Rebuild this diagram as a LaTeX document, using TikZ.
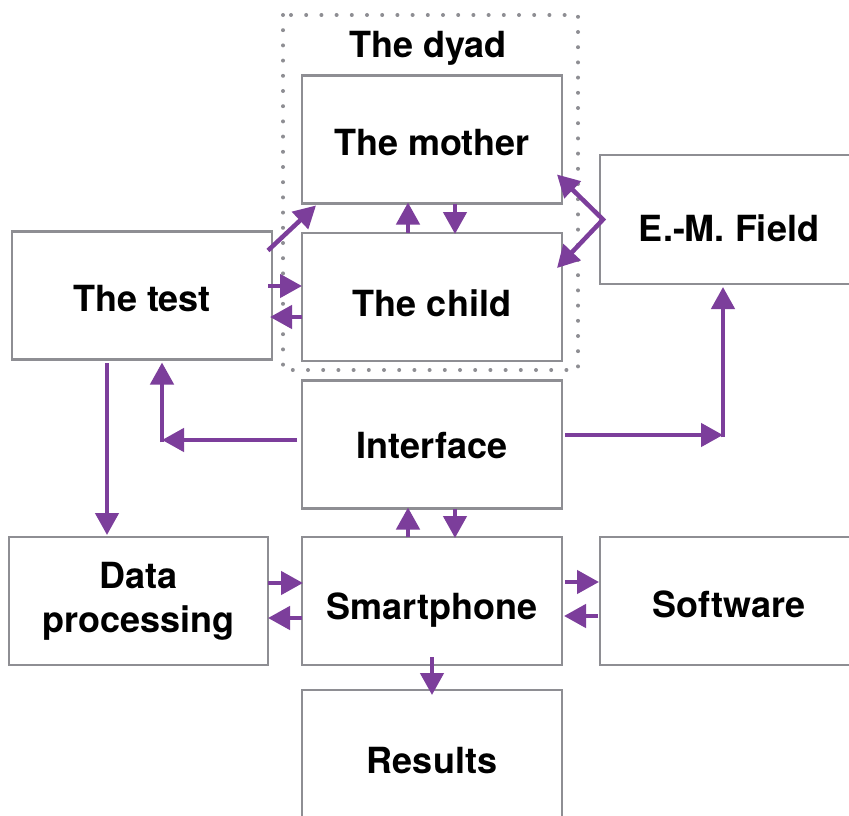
\documentclass[tikz,border=0pt]{standalone}
\usepackage{fontspec}
\setmainfont{TeX Gyre Heros}
\usetikzlibrary{arrows.meta,calc}
\definecolor{boxgray}{RGB}{142,142,147}
\definecolor{arrpurple}{RGB}{124,62,155}
\tikzset{
  box/.style={draw=boxgray, line width=2.5pt, minimum width=260pt, minimum height=128pt,
    inner sep=0pt, outer sep=0pt, align=center,
    font=\fontsize{36}{44}\selectfont\bfseries},
  bl/.style={text depth=0pt, text height=#1},
  arr/.style={draw=arrpurple, line width=4.5pt, -{Triangle[length=22pt,width=23pt]}},
  darr/.style={draw=arrpurple, line width=4.5pt, {Triangle[length=22pt,width=23pt]}-{Triangle[length=22pt,width=23pt]}},
  dyadbox/.style={draw=boxgray, line width=4pt, line cap=round, dash pattern=on 0pt off 15.2pt},
  lbl/.style={font=\fontsize{36}{44}\selectfont\bfseries, inner sep=0pt}
}
\begin{document}
\begin{tikzpicture}[x=1pt,y=-1pt]
\useasboundingbox (0,0) rectangle (849,816);
\clip (0,0) rectangle (849,816);
\fill[white] (0,0) rectangle (849,816);

% dyad frame
\draw[dyadbox] (283,15) rectangle (578,370);
\node[lbl] (dyad) at (428,48) {The dyad};

% boxes
\node[box, bl=31pt] (mother) at (432,139.5) {The mother};
\node[box, bl=38pt] (child) at (432,297) {The child};
\node[box, bl=31pt] (test) at (142,295.5) {The test};
\node[box, bl=43pt, minimum width=258pt, minimum height=129pt] (em) at (729,219.5) {E.-M. Field};
\node[box, bl=27pt] (interface) at (432,444.5) {Interface};
\node[box, minimum width=259pt] (dp) at (138.5,601) {\raisebox{-1pt}{Data}\\\raisebox{-1pt}{processing}};
\node[box, bl=36pt] (smart) at (432,601) {Smartphone};
\node[box, bl=32pt, minimum width=258pt] (soft) at (729,601) {Software};
\node[box, bl=38pt] (results) at (432,754) {Results};

% corner coordinates
\coordinate (cl) at (162,440);
\coordinate (cr) at (723,435);
\coordinate (apex) at ($(em.west)+(3,0)$);

% test -> mother / child
\draw[arr] ($(test.north east)+(-4,19)$) -- ($(mother.south west)+(14,2)$);
\draw[arr] ($(test.east)+(-4,-9.5)$) -- ($(child.west)+(0,-11)$);
\draw[arr] ($(child.west)+(0,20)$) -- ($(test.east)+(-2,21.5)$);

% mother <-> child
\draw[arr] ($(child.north)+(-24,0)$) -- ($(mother.south)+(-24,-1)$);
\draw[arr] ($(mother.south)+(23,0)$) -- ($(child.north)+(23,1)$);

% E.-M. field to mother and child
\draw[darr, line join=miter] ($(mother.south east)+(-5,-29)$) -- (apex) -- ($(child.north east)+(-5,35)$);

% test -> data processing
\draw[arr] ($(test.south)+(-35,3.5)$) -- ($(dp.north)+(-31.5,-2)$);

% interface -> test
\draw[arr] ($(interface.west)+(-5,-4.5)$) -- (cl);
\draw[arr, shorten >=3pt] ($(cl)+(0,2.25)$) -- (cl |- test.south);

% interface -> E.-M. field
\draw[arr] ($(interface.east)+(3,-9.5)$) -- (cr);
\draw[arr, shorten >=3pt] ($(cr)+(0,2.25)$) -- (cr |- em.south);

% interface <-> smartphone
\draw[arr] ($(smart.north)+(-24,0)$) -- ($(interface.south)+(-24,-1)$);
\draw[arr] ($(interface.south)+(23,0)$) -- ($(smart.north)+(23,1)$);

% data processing <-> smartphone
\draw[arr] ($(dp.east)+(0,-18)$) -- ($(smart.west)+(1,-18)$);
\draw[arr] ($(smart.west)+(0,17)$) -- ($(dp.east)+(0,17)$);

% smartphone <-> software
\draw[arr] ($(smart.east)+(3,-19)$) -- ($(soft.west)+(-1,-19)$);
\draw[arr] ($(soft.west)+(-2,15)$) -- ($(smart.east)+(2,15)$);

% smartphone -> results
\draw[arr] ($(smart.south)+(0,-8)$) -- ($(results.north)+(0,5)$);
\end{tikzpicture}
\end{document}
